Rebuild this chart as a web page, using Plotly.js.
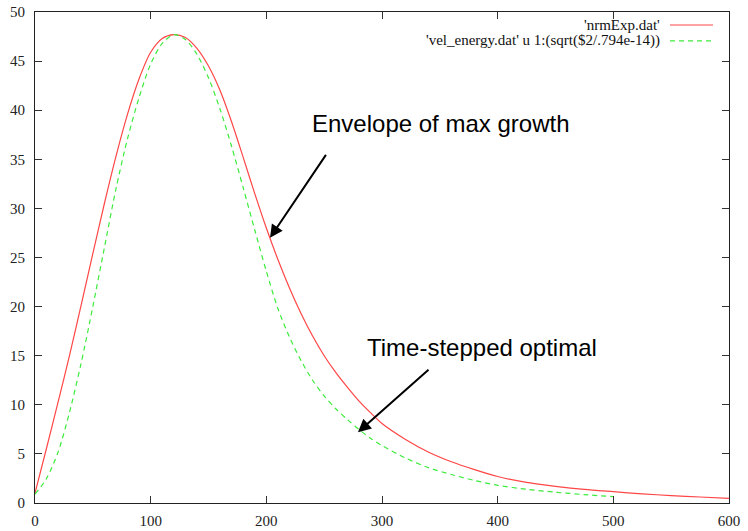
<!DOCTYPE html>
<html>
<head>
<meta charset="utf-8">
<script src="https://cdn.plot.ly/plotly-3.0.1.min.js"></script>
<style>html,body{margin:0;padding:0;background:#fff;}#chart{width:748px;height:531px;}</style>
</head>
<body>
<div id="chart"></div>
<script>
// Series 1: 'nrmExp.dat'
const nrmX = [0,10,20,30,40,50,60,70,80,90,100,110,120,130,140,150,160,170,180,190,200,210,220,230,240,250,260,270,280,290,300,320,340,360,380,400,425,450,475,500,525,550,575,600];
const nrmY = [1.0,5.6,10.3,15.1,20.2,25.4,30.5,35.3,39.6,43.2,45.9,47.3,47.7,47.4,46.3,44.5,42.0,38.8,35.2,31.5,28.0,24.8,21.9,19.3,17.0,15.0,13.3,11.8,10.4,9.2,8.1,6.5,5.2,4.2,3.4,2.7,2.1,1.7,1.38,1.15,0.93,0.76,0.61,0.48];
// Series 2: 'vel_energy.dat' u 1:(sqrt($2/.794e-14))
const velX = [0,10,20,30,40,50,60,70,80,90,100,110,120,130,140,150,160,170,180,190,200,210,220,230,240,250,260,270,280,290,300,320,340,360,380,400,425,450,475,500];
const velY = [0.9,2.5,5.2,9.3,14.3,20.0,26.0,32.0,37.1,41.3,44.7,46.8,47.7,47.2,45.7,43.3,40.1,36.3,32.1,27.8,23.6,19.8,16.9,14.5,12.5,10.9,9.6,8.5,7.5,6.6,5.85,4.6,3.6,2.9,2.3,1.8,1.4,1.1,0.85,0.65];
const legendNames = ["'nrmExp.dat'", "'vel_energy.dat' u 1:(sqrt($2/.794e-14))"];
const xTicks = [0,100,200,300,400,500,600];
const yTicks = [0,5,10,15,20,25,30,35,40,45,50];

const redC = 'rgb(255,70,70)';
const greenC = 'rgb(60,235,60)';
const serif = "Liberation Serif";

const traces = [
  {x: nrmX, y: nrmY, type: 'scatter', mode: 'lines', name: legendNames[0], showlegend: false,
   line: {color: redC, width: 1.2, shape: 'spline', smoothing: 0.8}},
  {x: velX, y: velY, type: 'scatter', mode: 'lines', name: legendNames[1], showlegend: false,
   line: {color: greenC, width: 1.2, dash: '5px,4px', shape: 'spline', smoothing: 0.8}}
];

function axis(extra) {
  return Object.assign({
    showgrid: false, zeroline: false, showline: true, linecolor: '#222', linewidth: 1,
    mirror: 'ticks', ticks: 'inside', ticklen: 7, tickwidth: 1, tickcolor: '#333',
    tickfont: {family: serif, size: 15, color: '#222'}, tickmode: 'array', fixedrange: true
  }, extra);
}

const layout = {
  width: 748, height: 531,
  font: {family: serif, size: 15, color: '#222'},
  margin: {l: 35, r: 19, t: 12, b: 28, pad: 0},
  paper_bgcolor: '#fff', plot_bgcolor: '#fff',
  showlegend: false,
  xaxis: axis({range: [0, 600], tickvals: xTicks, ticktext: xTicks.map(String), ticklabelstandoff: 4}),
  yaxis: axis({range: [0, 50], tickvals: yTicks, ticktext: yTicks.map(String), ticklabelstandoff: 6}),
  annotations: [
    {xref: 'paper', yref: 'paper', x: 0.903, y: 0.9735, xanchor: 'right', yanchor: 'middle', showarrow: false,
     text: legendNames[0], font: {family: serif, size: 15, color: '#111'}},
    {xref: 'paper', yref: 'paper', x: 0.903, y: 0.941, xanchor: 'right', yanchor: 'middle', showarrow: false,
     text: legendNames[1], font: {family: serif, size: 15, color: '#111'}},
    {xref: 'x', yref: 'y', x: 237.5, y: 38.6, xanchor: 'left', yanchor: 'middle', showarrow: false,
     text: 'Envelope of max growth', font: {family: 'Liberation Sans', size: 24, color: '#000'}},
    {xref: 'x', yref: 'y', x: 285.0, y: 15.8, xanchor: 'left', yanchor: 'middle', showarrow: false,
     text: 'Time-stepped optimal', font: {family: 'Liberation Sans', size: 24, color: '#000'}},
    {xref: 'x', yref: 'y', x: 203.2, y: 27.0, axref: 'x', ayref: 'y', ax: 252.4, ay: 35.6, text: '',
     showarrow: true, arrowhead: 2, arrowsize: 1.3, arrowwidth: 2, arrowcolor: '#000', standoff: 0, startstandoff: 0},
    {xref: 'x', yref: 'y', x: 279.2, y: 7.2, axref: 'x', ayref: 'y', ax: 341.5, ay: 13.7, text: '',
     showarrow: true, arrowhead: 2, arrowsize: 1.3, arrowwidth: 2, arrowcolor: '#000', standoff: 0, startstandoff: 0}
  ],
  shapes: [
    {type: 'line', xref: 'paper', yref: 'paper', x0: 0.915, x1: 0.977, y0: 0.9735, y1: 0.9735,
     line: {color: redC, width: 1.2}},
    {type: 'line', xref: 'paper', yref: 'paper', x0: 0.915, x1: 0.977, y0: 0.941, y1: 0.941,
     line: {color: greenC, width: 1.2, dash: '5px,4px'}}
  ]
};

Plotly.newPlot('chart', traces, layout, {staticPlot: true, displayModeBar: false});
</script>
</body>
</html>
